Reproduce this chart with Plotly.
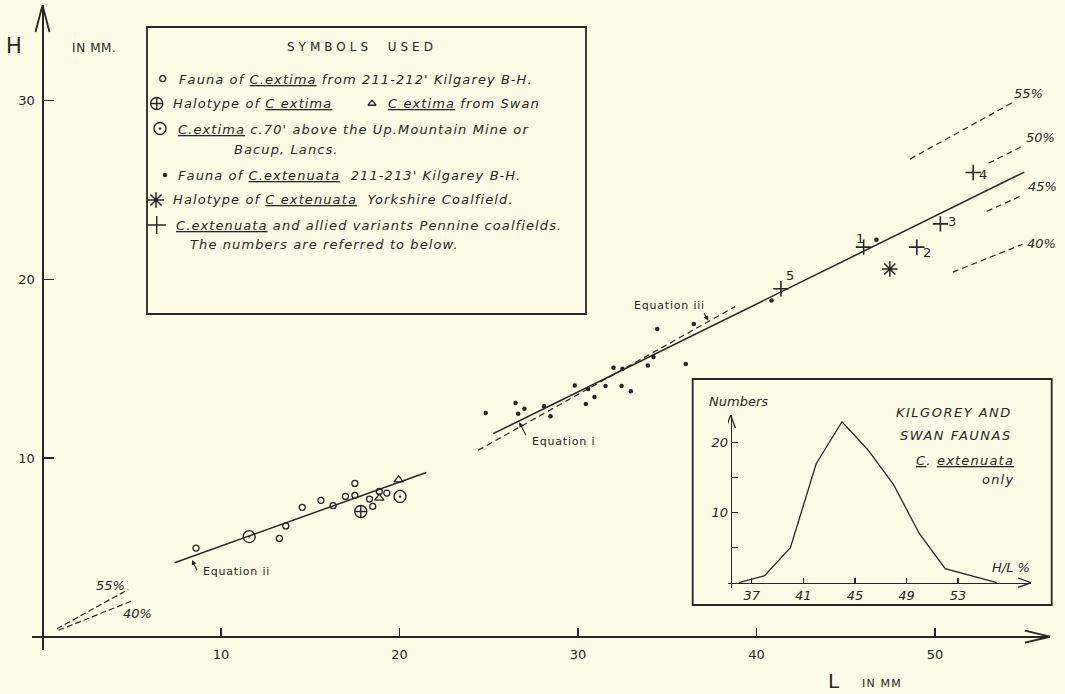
import plotly.graph_objects as go

W, H = 1065, 694
INK = "#262626"
BG = "#FDFBE5"
FONT = "DejaVu Sans"

# ---------------- data ----------------
extima_L = [8.6, 13.27, 13.63, 14.55, 15.6, 16.28, 16.97, 17.5, 17.5, 18.32, 18.5, 18.87, 19.29]
extima_H = [4.96, 5.5, 6.2, 7.24, 7.63, 7.33, 7.85, 8.58, 7.91, 7.7, 7.29, 8.13, 8.04]
holo_extima_L = [17.83]
holo_extima_H = [7.01]
swan_L = [18.87, 19.95]
swan_H = [7.76, 8.78]
bacup_L = [11.58, 20.03]
bacup_H = [5.6, 7.85]
extenuata_L = [24.83, 26.5, 26.65, 27.0, 28.1, 28.46, 29.82, 30.44, 30.57, 30.92, 31.54,
               31.99, 32.49, 32.44, 32.96, 33.91, 34.23, 34.44, 36.04, 36.49, 40.84, 46.72]
extenuata_H = [12.52, 13.08, 12.48, 12.76, 12.89, 12.33, 14.06, 13.02, 13.86, 13.41, 14.03,
               15.05, 15.0, 14.03, 13.73, 15.17, 15.65, 17.22, 15.26, 17.5, 18.82, 22.22]
holo_ext_L = [47.47]
holo_ext_H = [20.58]
pennine_L = [46.0, 48.98, 50.3, 52.14, 41.37]
pennine_H = [21.8, 21.8, 23.1, 25.98, 19.47]
pennine_num = ["1", "2", "3", "4", "5"]

eq1_L = [25.25, 55.0]
eq1_H = [11.36, 26.0]
eq2_L = [7.4, 21.5]
eq2_H = [4.14, 9.19]
eq3_L = [24.4, 38.8]
eq3_H = [10.43, 18.47]

ratio_pct = [55, 50, 45, 40]
ratio_L_from = [48.6, 53.0, 52.9, 51.0]
ratio_L_to = [54.4, 54.9, 54.9, 54.9]
low_pct = [55, 40]
low_L_from = [0.8, 0.9]
low_L_to = [4.8, 5.0]

x_ticks = [10, 20, 30, 40, 50]
y_ticks = [10, 20, 30]

inset_HL = [36, 38, 40, 42, 44, 46, 48, 50, 52, 54, 56]
inset_n = [0, 1, 5, 17, 23, 19, 14, 7, 2, 1, 0]
inset_x_ticks = [37, 41, 45, 49, 53]
inset_y_ticks = [5, 10, 15, 20]
inset_y_labels = ["", "10", "", "20"]

# ---------------- pixel calibration ----------------
X0PX, SXPX = 42.5, 17.85
Y0PX, SYPX = 636.7, 17.87


def dX(px):
    return (px - X0PX) / SXPX


def dY(py):
    return (Y0PX - py) / SYPX


def pX(px):
    return px / W


def pY(py):
    return 1 - py / H


# inset calibration
IX37, ISX = 751.7, 12.9
IY0, ISY = 582.7, 7.0


def iX(px):
    return 37 + (px - IX37) / ISX


def iY(py):
    return (IY0 - py) / ISY


fig = go.Figure()


def line(xs, ys, width=1.5, dash="solid", axes=("x", "y")):
    fig.add_trace(go.Scatter(x=xs, y=ys, mode="lines", xaxis=axes[0], yaxis=axes[1],
                             line=dict(color=INK, width=width, dash=dash),
                             hoverinfo="skip", showlegend=False, cliponaxis=False))


def markers(xs, ys, symbol, size, lw=1.2):
    fig.add_trace(go.Scatter(x=xs, y=ys, mode="markers", cliponaxis=False,
                             marker=dict(symbol=symbol, size=size, color=INK,
                                         line=dict(color=INK, width=lw)),
                             hoverinfo="skip", showlegend=False))


# regression lines
line(eq1_L, eq1_H, 1.5)
line(eq2_L, eq2_H, 1.5)
line(eq3_L, eq3_H, 1.2, dash="6px,4px")

# ratio lines
for p, a, b in zip(ratio_pct, ratio_L_from, ratio_L_to):
    line([a, b], [a * p / 100, b * p / 100], 1.2, dash="6px,4px")
for p, a, b in zip(low_pct, low_L_from, low_L_to):
    line([a, b], [a * p / 100, b * p / 100], 1.2, dash="6px,3px")

# data markers
markers(extima_L, extima_H, "circle-open", 6, 1.3)
markers(holo_extima_L, holo_extima_H, "circle-cross-open", 12, 1.4)
markers(swan_L, swan_H, "triangle-up-open", 8, 1.3)
markers(bacup_L, bacup_H, "circle-open-dot", 12, 1.4)
markers(extenuata_L, extenuata_H, "circle", 4.5, 0)
markers(holo_ext_L, holo_ext_H, "asterisk-open", 13, 1.5)
markers(pennine_L, pennine_H, "cross-thin-open", 11, 1.6)

# main axis arrowheads
line([dX(X0PX - 7), 0, dX(X0PX + 7)], [dY(32), dY(5), dY(32)], 1.8)
line([dX(1025), dX(1050), dX(1025)], [dY(Y0PX - 6), 0, dY(Y0PX + 6)], 1.8)

# legend symbols (positioned in pixels)
leg_sym = [
    (162.7, 78.6, "circle-open", 6, 1.3),
    (156.7, 103.5, "circle-cross-open", 12, 1.4),
    (372.0, 103.5, "triangle-up-open", 7, 1.3),
    (160.0, 128.5, "circle-open-dot", 12, 1.4),
    (165.0, 175.0, "circle", 4.5, 0),
    (156.0, 200.0, "asterisk-open", 13, 1.5),
    (156.7, 225.0, "cross-thin-open", 13, 1.4),
]
for px, py, s, sz, lw in leg_sym:
    markers([dX(px)], [dY(py)], s, sz, lw)

# inset curve
line(inset_HL, inset_n, 1.3, axes=("x2", "y2"))
line([iX(726), iX(730.7), iX(735.4)], [iY(428), iY(415), iY(428)], 1.3, axes=("x2", "y2"))
line([iX(1018), iX(1031), iX(1018)], [iY(578), iY(IY0), iY(587.4)], 1.3, axes=("x2", "y2"))

annotations = []


def ann(text, px, py, size=13, xanchor="center", italic=False, ls=0.0):
    if ls:
        text = f"<span style='letter-spacing:{ls}px'>{text}</span>"
    annotations.append(dict(
        text=text, x=pX(px), y=pY(py), xref="paper", yref="paper",
        xanchor=xanchor, yanchor="middle", showarrow=False,
        font=dict(family=FONT, size=size, color=INK, style="italic" if italic else "normal")))


def arrow(tip_px, tip_py, tail_px, tail_py):
    annotations.append(dict(
        text="", x=dX(tip_px), y=dY(tip_py), xref="x", yref="y",
        ax=tail_px - tip_px, ay=tail_py - tip_py, showarrow=True,
        arrowhead=2, arrowsize=0.9, arrowwidth=1.1, arrowcolor=INK))


# axis titles
ann("H", 14, 46, 21)
ann("IN MM.", 94, 48, 12, ls=0.6)
ann("L", 834, 681, 20)
ann("IN MM", 882, 683, 11, ls=1.2)

# numbers next to crosses
num_off = [(-4, -9), (10, 5), (12, -2), (10, 2), (9, -13)]
for t, lx, hy, (ox, oy) in zip(pennine_num, pennine_L, pennine_H, num_off):
    ann(t, X0PX + lx * SXPX + ox, Y0PX - hy * SYPX + oy, 13)

# ratio labels
ratio_lab_px = [(1028, 94), (1040, 137), (1042, 187), (1041, 243)]
for p, (lx, ly) in zip(ratio_pct, ratio_lab_px):
    ann(f"{p}%", lx, ly, 13, italic=True)
ann("55%", 110, 585, 13, italic=True)
ann("40%", 137, 613, 13, italic=True)

# equation labels
ann("Equation i", 530, 442, 11, xanchor="left", ls=0.8)
arrow(519.3, 422.3, 526.7, 436.7)
ann("Equation ii", 201, 571, 11, xanchor="left", ls=0.8)
arrow(192, 560, 197.7, 571.7)
ann("Equation iii", 632, 305, 11, xanchor="left", ls=0.8)
arrow(708.3, 320.7, 703.3, 311.7)

# legend
LS = 1.1
ann("SYMBOLS&nbsp;&nbsp;USED", 362, 47, 12, ls=4)
ann("Fauna of <u>C.extima</u> from 211-212' Kilgarey B-H.", 177, 79, 13, "left", True, LS)
ann("Halotype of <u>C extima</u>", 171, 104, 13, "left", True, LS)
ann("<u>C extima</u> from Swan", 386, 104, 13, "left", True, LS)
ann("<u>C.extima</u> c.70' above the Up.Mountain Mine or", 176, 129, 13, "left", True, LS)
ann("Bacup, Lancs.", 232, 149, 13, "left", True, LS)
ann("Fauna of <u>C.extenuata</u>  211-213' Kilgarey B-H.", 176, 175, 13, "left", True, LS)
ann("Halotype of <u>C extenuata</u>  Yorkshire Coalfield.", 171, 200, 13, "left", True, LS)
ann("<u>C.extenuata</u> and allied variants Pennine coalfields.", 174, 225, 13, "left", True, LS)
ann("The numbers are referred to below.", 188, 245, 13, "left", True, LS)

# inset texts
ann("Numbers", 738, 402, 13, italic=True)
ann("KILGOREY AND", 1014, 412, 13, "right", True, 1.5)
ann("SWAN FAUNAS", 1014, 435, 13, "right", True, 1.5)
ann("<u>C</u>. <u>extenuata</u>", 1016, 460, 13, "right", True, 1.2)
ann("only", 1016, 479, 13, "right", True, 1.2)
ann("H/L %", 1011, 567, 13, italic=True)

shapes = [
    dict(type="rect", xref="paper", yref="paper", x0=pX(147), x1=pX(586), y0=pY(27), y1=pY(314),
         line=dict(color=INK, width=1.8), fillcolor="rgba(0,0,0,0)", layer="below"),
    dict(type="rect", xref="paper", yref="paper", x0=pX(692.7), x1=pX(1051.7), y0=pY(379), y1=pY(605),
         line=dict(color=INK, width=1.8), fillcolor="rgba(0,0,0,0)", layer="below"),
]

tickfont = dict(family=FONT, size=13, color=INK)
fig.update_layout(
    width=W, height=H, margin=dict(l=0, r=0, t=0, b=0),
    paper_bgcolor=BG, plot_bgcolor=BG, showlegend=False,
    annotations=annotations, shapes=shapes,
    xaxis=dict(domain=[pX(32), pX(1050)], range=[dX(32), dX(1050)], anchor="free",
               position=pY(Y0PX), showline=True, linecolor=INK, linewidth=2,
               ticks="inside", ticklen=8, tickwidth=1.5, tickcolor=INK,
               tickvals=x_ticks, tickfont=tickfont, showgrid=False, zeroline=False,
               ticklabelstandoff=6, automargin=False, fixedrange=True),
    yaxis=dict(domain=[pY(650), pY(5)], range=[dY(650), dY(5)], anchor="free",
               position=pX(X0PX), showline=True, linecolor=INK, linewidth=2,
               ticks="inside", ticklen=10, tickwidth=1.5, tickcolor=INK,
               tickvals=y_ticks, tickfont=tickfont, showgrid=False, zeroline=False,
               ticklabelstandoff=4, automargin=False, fixedrange=True),
    xaxis2=dict(domain=[pX(728), pX(1031)], range=[iX(728), iX(1031)], anchor="free",
                position=pY(IY0), showline=True, linecolor=INK, linewidth=1.5,
                ticks="inside", ticklen=5, tickwidth=1.2, tickcolor=INK,
                tickvals=inset_x_ticks,
                tickfont=dict(family=FONT, size=13, color=INK, style="italic"),
                showgrid=False, zeroline=False, automargin=False, fixedrange=True),
    yaxis2=dict(domain=[pY(588), pY(415)], range=[iY(588), iY(415)], anchor="free",
                position=pX(730.7), showline=True, linecolor=INK, linewidth=1.5,
                ticks="inside", ticklen=6, tickwidth=1.2, tickcolor=INK,
                tickvals=inset_y_ticks, ticktext=inset_y_labels,
                tickfont=dict(family=FONT, size=13, color=INK, style="italic"),
                showgrid=False, zeroline=False, automargin=False, fixedrange=True),
)

fig.write_html("out.html", config={"displayModeBar": False, "staticPlot": True},
               post_script="document.body.style.margin='0px';document.body.style.background='" + BG + "';")
